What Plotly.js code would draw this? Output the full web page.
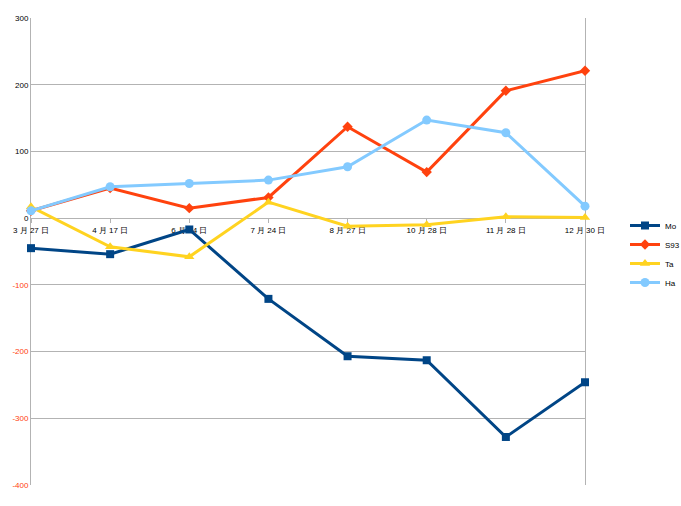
<!DOCTYPE html>
<html><head><meta charset="utf-8">
<script src="https://cdn.plot.ly/plotly-3.0.1.min.js"></script>
<style>body{margin:0;background:#fff}#c{width:681px;height:506px}</style>
</head><body><div id="c"></div>
<script>
const categories = ["3 月 27 日","4 月 17 日","6 月 24 日","7 月 24 日","8 月 27 日","10 月 28 日","11 月 28 日","12 月 30 日"];
const mo  = [-45, -54, -17, -121, -207, -213, -328, -246];
const s93 = [11, 45, 15, 31, 137, 69, 191, 221];
const ta  = [17, -43, -58, 24, -12, -10, 2, 1];
const ha  = [11, 47, 52, 57, 77, 147, 128, 18];
const yTicks = [300, 200, 100, 0, -100, -200, -300, -400];

const mk = (name, y, color, symbol, size) => ({
  type: 'scatter', mode: 'lines+markers', name: name, x: categories, y: y,
  line: {color: color, width: 3}, marker: {color: color, symbol: symbol, size: size},
  cliponaxis: false
});
const data = [
  mk('Mo', mo, '#004586', 'square', 8),
  mk('S93', s93, '#ff420e', 'diamond', 8),
  mk('Ta', ta, '#ffd320', 'triangle-up', 9),
  mk('Ha', ha, '#83caff', 'circle', 9)
];
const layout = {
  width: 681, height: 506,
  margin: {l: 31, r: 96, t: 18, b: 21, autoexpand: false},
  paper_bgcolor: '#fff', plot_bgcolor: '#fff',
  font: {family: 'Liberation Sans, Arial, sans-serif', size: 8, color: '#000'},
  showlegend: true,
  legend: {xref: 'container', yref: 'container', x: 625 / 681, y: (506 - 254) / 506, xanchor: 'left', yanchor: 'middle',
           font: {size: 8}, itemwidth: 30, tracegroupgap: 0, bgcolor: 'rgba(0,0,0,0)'},
  xaxis: {
    type: 'category', range: [0, 7], anchor: 'free', position: (485 - 218) / 467,
    showgrid: false, zeroline: false, showline: false, layer: 'below traces',
    ticks: 'outside', ticklen: 4, tickcolor: '#b3b3b3', tickfont: {size: 8}
  },
  yaxis: {
    range: [-400, 300], tickvals: yTicks,
    ticktext: yTicks.map(v => v < 0 ? '<span style="color:#ff420e">' + v + '</span>' : String(v)),
    showgrid: true, gridcolor: '#b3b3b3', gridwidth: 1,
    zeroline: true, zerolinecolor: '#b3b3b3', zerolinewidth: 1,
    showline: true, linecolor: '#b3b3b3', mirror: true, layer: 'below traces',
    ticks: '', tickfont: {size: 8}
  }
};
Plotly.newPlot('c', data, layout, {displayModeBar: false, staticPlot: true});
</script></body></html>
